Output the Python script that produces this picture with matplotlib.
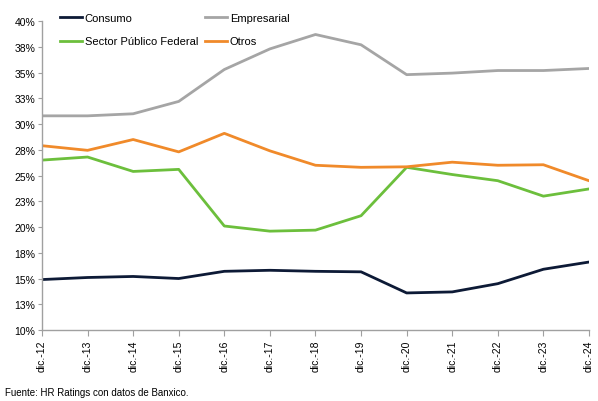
import matplotlib.pyplot as plt
from matplotlib.ticker import FixedLocator, FuncFormatter

plt.rcParams['font.family'] = ['Liberation Sans', 'DejaVu Sans']

years = ['dic.-12', 'dic.-13', 'dic.-14', 'dic.-15', 'dic.-16', 'dic.-17', 'dic.-18',
         'dic.-19', 'dic.-20', 'dic.-21', 'dic.-22', 'dic.-23', 'dic.-24']
consumo = [14.9, 15.1, 15.2, 15.0, 15.7, 15.8, 15.7, 15.65, 13.6, 13.7, 14.5, 15.9, 16.6]
empresarial = [30.8, 30.8, 31.0, 32.2, 35.3, 37.3, 38.7, 37.7, 34.8, 34.95, 35.2, 35.2, 35.4]
sector_publico = [26.5, 26.8, 25.4, 25.6, 20.1, 19.6, 19.7, 21.1, 25.8, 25.1, 24.5, 23.0, 23.7]
otros = [27.9, 27.45, 28.5, 27.3, 29.1, 27.4, 26.0, 25.8, 25.85, 26.3, 26.0, 26.05, 24.5]
y_ticks = [10, 12.5, 15, 17.5, 20, 22.5, 25, 27.5, 30, 32.5, 35, 37.5, 40]

fig = plt.figure(figsize=(5.98, 4.02), dpi=100)
ax = fig.add_axes([0.0702, 0.1766, 0.9147, 0.7684])

x = list(range(len(years)))
l1, = ax.plot(x, consumo, color='#0d1a36', lw=2.0, label='Consumo')
l2, = ax.plot(x, empresarial, color='#a5a5a5', lw=2.0, label='Empresarial')
l3, = ax.plot(x, sector_publico, color='#6cbf3c', lw=2.0, label='Sector Público Federal')
l4, = ax.plot(x, otros, color='#f08a2a', lw=2.0, label='Otros')

ax.set_xlim(0, len(years) - 1)
ax.set_ylim(10, 40)
ax.set_xticks(x)
ax.set_xticklabels(years, rotation=90, fontsize=7.5)
ax.yaxis.set_major_locator(FixedLocator(y_ticks))
ax.yaxis.set_major_formatter(FuncFormatter(lambda v, p: f"{int(v + 0.5)}%"))
ax.tick_params(axis='y', labelsize=7.5, length=3, color='#a0a0a0', pad=2)
ax.tick_params(axis='x', length=4, color='#a0a0a0', pad=3)

for s in ['top', 'right']:
    ax.spines[s].set_visible(False)
for s in ['left', 'bottom']:
    ax.spines[s].set_color('#a0a0a0')
    ax.spines[s].set_linewidth(1.0)

# legend fills column-wise, so order handles to read row-wise like the original
ax.legend([l1, l3, l2, l4], [l.get_label() for l in (l1, l3, l2, l4)],
          loc='upper left', bbox_to_anchor=(0.015, 1.06), ncol=2, frameon=False,
          fontsize=8, handlelength=2.0, handletextpad=0.2, columnspacing=0.65,
          labelspacing=1.25)

fig.text(0.008, 0.015, 'Fuente: HR Ratings con datos de Banxico.', fontsize=7)

fig.savefig('out.png', dpi=100)
